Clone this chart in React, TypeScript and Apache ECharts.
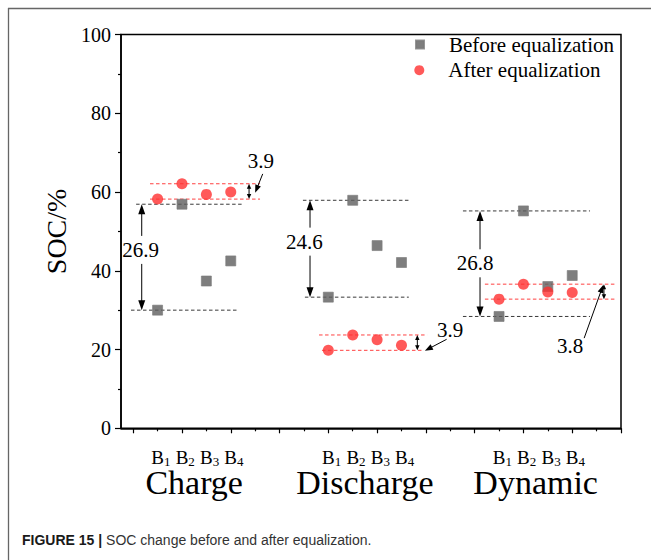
import React, { useEffect, useRef } from "react";
import * as echarts from "echarts";

// ---------- data ----------
const groupNames = ["Charge", "Discharge", "Dynamic"];
const cellSubscripts = ["1", "2", "3", "4"];
const cellPositions = [
  [2, 3, 4, 5],
  [9, 10, 11, 12],
  [16, 17, 18, 19],
];
const groupCenters = [3.5, 10.5, 17.5];

const beforeCharge = [30.0, 56.9, 37.4, 42.5];
const beforeDischarge = [33.3, 57.9, 46.4, 42.1];
const beforeDynamic = [28.4, 55.2, 36.0, 38.8];
const afterCharge = [58.2, 62.1, 59.4, 60.0];
const afterDischarge = [19.8, 23.7, 22.5, 21.1];
const afterDynamic = [32.8, 36.6, 34.6, 34.5];

const spreadBeforeLabels = ["26.9", "24.6", "26.8"];
const spreadAfterLabels = ["3.9", "3.9", "3.8"];

const yTicks = [0, 20, 40, 60, 80, 100];
const xRange = [0.5, 21];
const xMajorTicks = [1, 3, 5, 7, 9, 11, 13, 15, 17, 19, 21];
const xMinorTicks = [2, 4, 6, 8, 10, 12, 14, 16, 18, 20];

const seriesNames = ["Before equalization", "After equalization"];

// ---------- annotation layout (axis units) ----------
const beforeTopSpan = [[1.12, 5.5], [7.96, 12.3], [14.52, 19.73]];
const beforeBottomSpan = [[0.91, 5.26], [8.04, 12.3], [14.52, 19.73]];
const afterTopSpan = [[1.69, 6.2], [8.62, 13.05], [15.42, 20.75]];
const afterBottomSpan = [[1.69, 6.2], [8.74, 12.88], [15.42, 20.75]];
const bigArrowX = [1.35, 8.25, 15.22];
const bigLabelAt = [[1.3, 45.3], [8.02, 47.4], [15.02, 41.9]];
const smallArrowX = [5.75, 12.65, 20.3];
const smallLabelAt = [[6.23, 67.9], [13.99, 25.0], [18.91, 21.0]];
const pointerFrom = [[6.31, 64.6], [13.85, 22.6], [19.49, 22.9]];
const pointerTo = [[6.0, 59.8], [12.96, 19.7], [20.27, 36.4]];

const SERIF = "Liberation Serif";
const SANS = "Liberation Sans";
const GRAY = "#5e5e5e";
const RED = "#ff3030";

const beforeGroups = [beforeCharge, beforeDischarge, beforeDynamic];
const afterGroups = [afterCharge, afterDischarge, afterDynamic];

type Ann =
  | { kind: "dash"; x0: number; x1: number; y: number; color: string }
  | { kind: "big"; x: number; y0: number; y1: number; lx: number; ly: number; text: string }
  | { kind: "small"; x: number; y0: number; y1: number }
  | { kind: "pointer"; from: number[]; to: number[] }
  | { kind: "text"; x: number; y: number; text: string };

function buildAnnotations(): Ann[] {
  const out: Ann[] = [];
  for (let g = 0; g < 3; g++) {
    const bMax = Math.max(...beforeGroups[g]);
    const bMin = Math.min(...beforeGroups[g]);
    const aMax = Math.max(...afterGroups[g]);
    const aMin = Math.min(...afterGroups[g]);
    out.push({ kind: "dash", x0: beforeTopSpan[g][0], x1: beforeTopSpan[g][1], y: bMax, color: "#3a3a3a" });
    out.push({ kind: "dash", x0: beforeBottomSpan[g][0], x1: beforeBottomSpan[g][1], y: bMin, color: "#3a3a3a" });
    out.push({ kind: "dash", x0: afterTopSpan[g][0], x1: afterTopSpan[g][1], y: aMax, color: "#ff4040" });
    out.push({ kind: "dash", x0: afterBottomSpan[g][0], x1: afterBottomSpan[g][1], y: aMin, color: "#ff4040" });
    out.push({ kind: "big", x: bigArrowX[g], y0: bMax, y1: bMin, lx: bigLabelAt[g][0], ly: bigLabelAt[g][1], text: spreadBeforeLabels[g] });
    out.push({ kind: "small", x: smallArrowX[g], y0: aMax, y1: aMin });
    out.push({ kind: "pointer", from: pointerFrom[g], to: pointerTo[g] });
    out.push({ kind: "text", x: smallLabelAt[g][0], y: smallLabelAt[g][1], text: spreadAfterLabels[g] });
  }
  return out;
}

function head(tip: number[], dir: number[], len: number, half: number) {
  const bx = tip[0] - dir[0] * len;
  const by = tip[1] - dir[1] * len;
  const nx = -dir[1];
  const ny = dir[0];
  return {
    type: "polygon",
    shape: { points: [[tip[0], tip[1]], [bx + nx * half, by + ny * half], [bx - nx * half, by - ny * half]] },
    style: { fill: "#000" },
  };
}

function seg(a: number[], b: number[], w = 1) {
  return {
    type: "line",
    shape: { x1: a[0], y1: a[1], x2: b[0], y2: b[1] },
    style: { stroke: "#000", lineWidth: w },
  };
}

function annText(x: number, y: number, text: string) {
  return {
    type: "text",
    x,
    y,
    style: {
      text,
      font: `21px "${SERIF}"`,
      fontSize: 21,
      fontFamily: SERIF,
      fill: "#000",
      align: "center",
      verticalAlign: "middle",
    },
  };
}

export default function App() {
  const ref = useRef<HTMLDivElement>(null);

  useEffect(() => {
    if (!ref.current) return;
    const chart = echarts.init(ref.current, undefined, { renderer: "svg" });
    const anns = buildAnnotations();

    const beforeData: number[][] = [];
    const afterData: number[][] = [];
    for (let g = 0; g < 3; g++) {
      for (let i = 0; i < 4; i++) {
        beforeData.push([cellPositions[g][i], beforeGroups[g][i]]);
        afterData.push([cellPositions[g][i], afterGroups[g][i]]);
      }
    }

    const renderItem = (params: any, api: any) => {
      const a = anns[params.dataIndex];
      if (a.kind === "dash") {
        const p0 = api.coord([a.x0, a.y]);
        const p1 = api.coord([a.x1, a.y]);
        return {
          type: "line",
          shape: { x1: p0[0], y1: p0[1], x2: p1[0], y2: p1[1] },
          style: { stroke: a.color, lineWidth: 1, lineDash: [3.5, 2.5] },
        };
      }
      if (a.kind === "big") {
        const top = api.coord([a.x, a.y0]);
        const bot = api.coord([a.x, a.y1]);
        const lab = api.coord([a.lx, a.ly]);
        const len = 10;
        const half = 3.5;
        return {
          type: "group",
          children: [
            seg([top[0], top[1] + len - 1], [top[0], lab[1] - 14]),
            seg([bot[0], lab[1] + 14], [bot[0], bot[1] - len + 1]),
            head(top, [0, -1], len, half),
            head(bot, [0, 1], len, half),
            annText(lab[0], lab[1], a.text),
          ],
        };
      }
      if (a.kind === "small") {
        const top = api.coord([a.x, a.y0]);
        const bot = api.coord([a.x, a.y1]);
        const len = 5;
        const half = 2.2;
        return {
          type: "group",
          children: [
            seg([top[0], top[1] + len - 1], [bot[0], bot[1] - len + 1]),
            head(top, [0, -1], len, half),
            head(bot, [0, 1], len, half),
          ],
        };
      }
      if (a.kind === "pointer") {
        const p0 = api.coord(a.from);
        const p1 = api.coord(a.to);
        const dx = p1[0] - p0[0];
        const dy = p1[1] - p0[1];
        const d = Math.sqrt(dx * dx + dy * dy);
        const dir = [dx / d, dy / d];
        const len = 8;
        return {
          type: "group",
          children: [
            seg(p0, [p1[0] - dir[0] * (len - 1), p1[1] - dir[1] * (len - 1)]),
            head(p1, dir, len, 3),
          ],
        };
      }
      const p = api.coord([a.x, a.y]);
      return annText(p[0], p[1], a.text);
    };

    const bLabelRich: any = {
      p: { fontSize: 19, fontFamily: SERIF, width: 11.7, verticalAlign: "top" },
      b: { fontSize: 19, fontFamily: SERIF, color: "#000", verticalAlign: "top" },
      s: { fontSize: 13, fontFamily: SERIF, color: "#000", verticalAlign: "top", padding: [7, 0, 0, 0] },
      g: { fontSize: 13, fontFamily: SERIF, width: 5.2, verticalAlign: "top" },
    };

    const option: any = {
      animation: false,
      backgroundColor: "#fff",
      grid: {
        left: 121,
        right: 30,
        top: 34.5,
        bottom: 131.7,
        show: true,
        borderColor: "#000",
        borderWidth: 1.5,
        containLabel: false,
        outerBoundsMode: "none",
      },
      legend: [
        {
          data: [{ name: seriesNames[0], icon: "rect" }],
          left: 415,
          top: 34,
          padding: 0,
          itemWidth: 8,
          itemHeight: 8,
          selectedMode: false,
          formatter: (n: string) => `{t|${n}}`,
          textStyle: {
            rich: { t: { fontSize: 21, fontFamily: SERIF, color: "#000", lineHeight: 24, padding: [0, 0, 0, 20] } },
          },
        },
        {
          data: [{ name: seriesNames[1], icon: "circle" }],
          left: 414.3,
          top: 59.7,
          padding: 0,
          itemWidth: 10,
          itemHeight: 10,
          selectedMode: false,
          formatter: (n: string) => `{t|${n}}`,
          textStyle: {
            rich: { t: { fontSize: 21, fontFamily: SERIF, color: "#000", lineHeight: 24, padding: [0, 0, 0, 19] } },
          },
        },
      ],
      xAxis: [
        {
          type: "value",
          min: xRange[0],
          max: xRange[1],
          position: "bottom",
          axisLine: { show: true, onZero: false, lineStyle: { color: "#000", width: 1.5 } },
          axisTick: { show: true, customValues: xMajorTicks, length: 5, lineStyle: { color: "#000", width: 1.2 } },
          splitLine: { show: false },
          axisLabel: {
            customValues: groupCenters,
            margin: 20,
            formatter: () =>
              "{p| }" + cellSubscripts.map((s) => `{b|B}{s|${s}}{g| }`).join(""),
            rich: bLabelRich,
          },
        },
        {
          type: "value",
          min: xRange[0],
          max: xRange[1],
          position: "bottom",
          axisLine: { show: false, onZero: false },
          axisTick: { show: true, customValues: xMinorTicks, length: 3, lineStyle: { color: "#000", width: 1.2 } },
          splitLine: { show: false },
          axisLabel: {
            customValues: groupCenters,
            margin: 37,
            fontSize: 34,
            lineHeight: 34,
            fontFamily: SERIF,
            color: "#000",
            formatter: (v: number) => {
              const i = groupCenters.indexOf(v);
              return i >= 0 ? groupNames[i] : "";
            },
          },
        },
      ],
      yAxis: {
        type: "value",
        min: yTicks[0],
        max: yTicks[yTicks.length - 1],
        interval: yTicks[1] - yTicks[0],
        axisLine: { show: true, lineStyle: { color: "#000", width: 1.5 } },
        axisTick: { show: true, length: 6, lineStyle: { color: "#000", width: 1.2 } },
        minorTick: { show: true, splitNumber: 2, length: 3, lineStyle: { color: "#000", width: 1.2 } },
        splitLine: { show: false },
        minorSplitLine: { show: false },
        axisLabel: { fontSize: 20, fontFamily: SERIF, color: "#000", margin: 10 },
        name: "SOC/%",
        nameLocation: "middle",
        nameGap: 46,
        nameTextStyle: { fontSize: 28, fontFamily: SERIF, color: "#000" },
      },
      series: [
        {
          type: "custom",
          xAxisIndex: 0,
          yAxisIndex: 0,
          silent: true,
          clip: false,
          z: 1,
          renderItem,
          data: anns.map((_, i) => [xRange[0] + 1, 50, i]),
        },
        {
          name: seriesNames[0],
          type: "scatter",
          xAxisIndex: 0,
          symbol: "rect",
          symbolSize: 10,
          itemStyle: { color: GRAY, borderColor: "#7a7a7a", borderWidth: 0.8 },
          z: 3,
          data: beforeData,
        },
        {
          name: seriesNames[1],
          type: "scatter",
          xAxisIndex: 0,
          symbol: "circle",
          symbolSize: 11,
          itemStyle: { color: RED },
          z: 4,
          data: afterData,
        },
      ],
      graphic: [
        {
          type: "line",
          shape: { x1: 8, y1: 8.5, x2: 651, y2: 8.5 },
          style: { stroke: "#666", lineWidth: 1.3 },
        },
        {
          type: "line",
          shape: { x1: 8.5, y1: 8, x2: 8.5, y2: 560 },
          style: { stroke: "#666", lineWidth: 1.3 },
        },
        {
          type: "text",
          left: 22,
          top: 533,
          style: {
            text: "{b|FIGURE 15 |} {n|SOC change before and after equalization.}",
            rich: {
              b: { fontSize: 14, fontFamily: SANS, fontWeight: "bold", fill: "#1a1a1a" },
              n: { fontSize: 14, fontFamily: SANS, fill: "#333" },
            },
            fontSize: 14,
            fontFamily: SANS,
          },
        },
      ],
    };

    chart.setOption(option);
    return () => chart.dispose();
  }, []);

  return (
    <div
      ref={ref}
      style={{ position: "fixed", left: 0, top: 0, width: 651, height: 560, background: "#fff" }}
    />
  );
}
